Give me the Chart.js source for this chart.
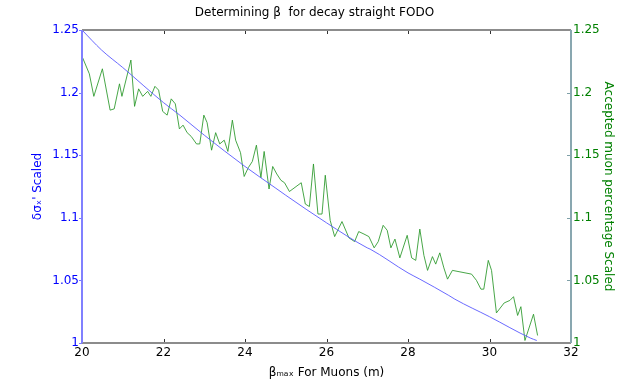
<!DOCTYPE html>
<html>
<head>
<meta charset="utf-8">
<script src="https://cdn.jsdelivr.net/npm/chart.js@4"></script>
<style>
  html, body { margin: 0; padding: 0; background: #fff; }
  #wrap { width: 629px; height: 385px; }
</style>
</head>
<body>
<div id="wrap"><canvas id="grafico"></canvas></div>
<script>
// beta max (m) per la curva blu
const betaSigma = [20, 20.48, 21, 22, 22.4, 23, 24, 24.74, 25, 26, 27, 27.07, 28, 28.29, 29, 29.15, 30, 31, 31.16];
const sigmaScaled = [1.25, 1.234, 1.22, 1.192, 1.182, 1.166, 1.141, 1.124, 1.118, 1.096, 1.076, 1.075, 1.056, 1.051, 1.038, 1.035, 1.021, 1.004, 1.002];

// beta max (m) per la curva verde
const betaMuons = [20.0, 20.18, 20.29, 20.5, 20.69, 20.79, 20.92, 20.98, 21.2, 21.29, 21.39, 21.49, 21.61, 21.69, 21.79, 21.88, 21.98, 22.09, 22.19, 22.29,
  22.39, 22.48, 22.58, 22.68, 22.81, 22.89, 22.99, 23.07, 23.18, 23.28, 23.38, 23.49, 23.58, 23.69, 23.77, 23.89, 23.98, 24.08, 24.18, 24.28,
  24.39, 24.47, 24.59, 24.68, 24.78, 24.88, 24.97, 25.09, 25.38, 25.48, 25.58, 25.68, 25.79, 25.89, 25.97, 26.09, 26.2, 26.38, 26.55, 26.69,
  26.79, 26.92, 27.04, 27.17, 27.27, 27.39, 27.49, 27.58, 27.68, 27.8, 27.98, 28.09, 28.19, 28.29, 28.39, 28.48, 28.6, 28.68, 28.78, 28.88,
  28.97, 29.09, 29.56, 29.68, 29.79, 29.86, 29.97, 30.05, 30.17, 30.36, 30.5, 30.59, 30.69, 30.77, 30.87, 31.08, 31.18];
const muonScaled = [1.229, 1.215, 1.197, 1.219, 1.186, 1.187, 1.207, 1.197, 1.226, 1.189, 1.203, 1.197, 1.201, 1.197, 1.205, 1.202, 1.185, 1.182, 1.195, 1.191,
  1.171, 1.174, 1.168, 1.165, 1.159, 1.159, 1.182, 1.176, 1.154, 1.168, 1.159, 1.162, 1.153, 1.178, 1.162, 1.152, 1.133, 1.140, 1.145, 1.158,
  1.132, 1.153, 1.123, 1.141, 1.135, 1.130, 1.128, 1.121, 1.128, 1.111, 1.109, 1.143, 1.103, 1.103, 1.134, 1.098, 1.085, 1.097, 1.084, 1.081,
  1.089, 1.087, 1.085, 1.076, 1.081, 1.094, 1.090, 1.076, 1.083, 1.068, 1.086, 1.068, 1.066, 1.091, 1.070, 1.058, 1.069, 1.063, 1.072, 1.060,
  1.051, 1.058, 1.055, 1.050, 1.043, 1.043, 1.066, 1.058, 1.024, 1.032, 1.034, 1.037, 1.022, 1.029, 1.002, 1.023, 1.006];

const xTicks = [20, 22, 24, 26, 28, 30, 32];
const yTicks = [1, 1.05, 1.1, 1.15, 1.2, 1.25];

const FONT = 'DejaVu Sans';
const fmt = v => String(parseFloat(Number(v).toFixed(2)));

// assi alla matplotlib: cornice e tacche verso l'interno
const cornice = {
  id: 'cornice',
  afterDraw(chart) {
    const { ctx, chartArea: a, scales } = chart;
    ctx.save();
    ctx.lineWidth = 1;
    const line = (x1, y1, x2, y2, c) => {
      ctx.strokeStyle = c;
      ctx.beginPath(); ctx.moveTo(x1, y1); ctx.lineTo(x2, y2); ctx.stroke();
    };
    xTicks.forEach(t => {
      const px = Math.round(scales.x.getPixelForValue(t)) + 0.5;
      line(px, a.bottom, px, a.bottom - 4, '#333');
      line(px, a.top, px, a.top + 4, '#333');
    });
    yTicks.forEach(t => {
      const py = Math.round(scales.y.getPixelForValue(t)) + 0.5;
      line(a.left - 3, py, a.left, py, '#7a7aff');
      line(a.right - 4, py, a.right, py, '#7fa0a8');
    });
    ctx.lineWidth = 2;
    line(a.left, a.top, a.right, a.top, '#8c8c8c');
    line(a.left, a.bottom, a.right, a.bottom, '#8c8c8c');
    line(a.left, a.top, a.left, a.bottom, '#8080ff');
    line(a.right, a.top, a.right, a.bottom, '#89a7b0');
    ctx.restore();
  }
};

new Chart(document.getElementById('grafico'), {
  type: 'line',
  data: {
    datasets: [{
      label: 'sigma',
      data: betaSigma.map((b, i) => ({ x: b, y: sigmaScaled[i] })),
      borderColor: 'rgba(90, 90, 255, 0.9)',
      borderWidth: 1,
      pointRadius: 0,
      cubicInterpolationMode: 'monotone',
      yAxisID: 'y'
    }, {
      label: 'muoni',
      data: betaMuons.map((b, i) => ({ x: b, y: muonScaled[i] })),
      borderColor: 'rgba(40, 150, 40, 0.85)',
      borderWidth: 1,
      pointRadius: 0,
      tension: 0,
      yAxisID: 'y2'
    }]
  },
  options: {
    responsive: true,
    maintainAspectRatio: false,
    animation: false,
    layout: { padding: 0 },
    plugins: {
      legend: { display: false },
      tooltip: { enabled: false },
      title: {
        display: true,
        text: 'Determining \u03b2  for decay straight FODO',
        color: '#000',
        font: { family: FONT, size: 12, weight: 'normal' },
        padding: { top: 6, bottom: 9.6 }
      }
    },
    scales: {
      x: {
        type: 'linear',
        min: 20, max: 32,
        afterBuildTicks: s => { s.ticks = xTicks.map(v => ({ value: v })); },
        afterFit: s => { s.height = 42; },
        grid: { display: false, drawTicks: false },
        border: { display: false },
        ticks: { color: '#000', font: { family: FONT, size: 12 }, padding: 3, maxRotation: 0, callback: v => fmt(v) },
        title: {
          display: true,
          text: '\u03b2\u2098\u2090\u2093 For Muons (m)',
          color: '#000',
          font: { family: FONT, size: 12 },
          padding: { top: 0, bottom: 5 }
        }
      },
      y: {
        position: 'left',
        min: 1, max: 1.25,
        afterBuildTicks: s => { s.ticks = yTicks.map(v => ({ value: v })); },
        afterFit: s => { s.width = 82; },
        grid: { display: false, drawTicks: false },
        border: { display: false },
        ticks: { color: '#0000ff', font: { family: FONT, size: 12 }, padding: 3, callback: v => fmt(v) },
        title: {
          display: true,
          text: '\u03b4\u03c3\u2093\' Scaled',
          color: '#0000ff',
          font: { family: FONT, size: 12 },
          padding: { top: 31, bottom: 0 }
        }
      },
      y2: {
        position: 'right',
        min: 1, max: 1.25,
        afterBuildTicks: s => { s.ticks = yTicks.map(v => ({ value: v })); },
        afterFit: s => { s.width = 58; },
        grid: { display: false, drawTicks: false },
        border: { display: false },
        ticks: { color: '#008000', font: { family: FONT, size: 12 }, padding: 2, callback: v => fmt(v) },
        title: {
          display: true,
          text: 'Accepted muon percentage Scaled',
          color: '#008000',
          font: { family: FONT, size: 12 },
          padding: { top: 14, bottom: 0 }
        }
      }
    }
  },
  plugins: [cornice]
});
</script>
</body>
</html>
